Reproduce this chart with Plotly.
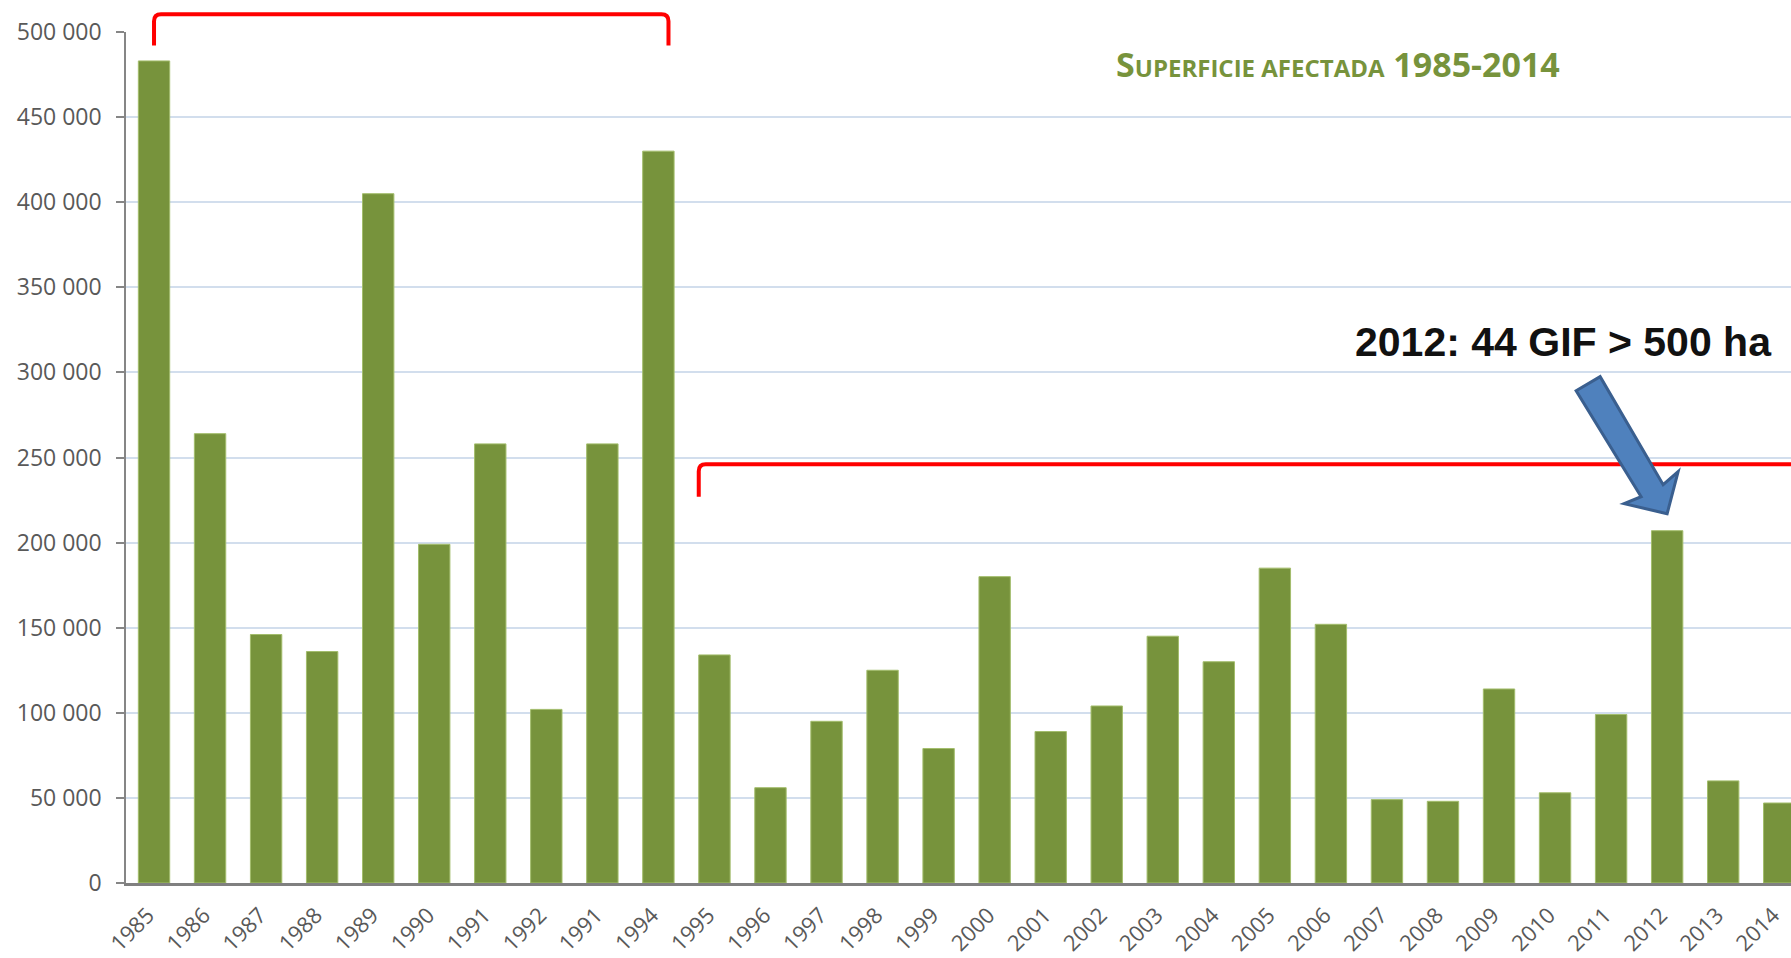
import plotly.graph_objects as go

# ---- data ----
years = ["1985", "1986", "1987", "1988", "1989", "1990", "1991", "1992", "1991", "1994",
         "1995", "1996", "1997", "1998", "1999", "2000", "2001", "2002", "2003", "2004",
         "2005", "2006", "2007", "2008", "2009", "2010", "2011", "2012", "2013", "2014"]
area_ha = [483000, 264000, 146000, 136000, 405000, 199000, 258000, 102000, 258000, 430000,
           134000, 56000, 95000, 125000, 79000, 180000, 89000, 104000, 145000, 130000,
           185000, 152000, 49000, 48000, 114000, 53000, 99000, 207000, 60000, 47000]
y_ticks = [0, 50000, 100000, 150000, 200000, 250000, 300000, 350000, 400000, 450000, 500000]

positions = list(range(len(years)))
label_pos = [p - 0.11 for p in positions]

W, H = 1791, 958
ML, MR, MT, MB = 126, 0, 32, 75
PW, PH = W - ML - MR, H - MT - MB
XR = [-0.5, 29.21]
YR = [0, 500000]


def px_x(x):
    return (x - XR[0]) / (XR[1] - XR[0])


def py_y(y):
    return (y - YR[0]) / (YR[1] - YR[0])


fig = go.Figure()
fig.add_trace(go.Bar(
    x=positions, y=area_ha, width=0.56,
    marker=dict(color="#77933c", line=dict(color="#a3bd6c", width=1)),
    hoverinfo="y",
))


def bracket(x0, x1, ytop, ybot, r=7):
    a, b = px_x(x0), px_x(x1)
    t, bt = py_y(ytop), py_y(ybot)
    rx, ry = r / PW, r / PH
    return (f"M {a},{bt} L {a},{t - ry} Q {a},{t} {a + rx},{t} "
            f"L {b - rx},{t} Q {b},{t} {b},{t - ry} L {b},{bt}")


shapes = [
    dict(type="path", xref="paper", yref="paper",
         path=bracket(0.0, 9.18, 510500, 492000),
         line=dict(color="#ff0000", width=4)),
    dict(type="path", xref="paper", yref="paper",
         path=bracket(9.72, 29.9, 246000, 227000),
         line=dict(color="#ff0000", width=4)),
]

# block arrow pointing at the 2012 bar (offsets in screen pixels from the tip)
tip_x = px_x(27)
tip_y = py_y(area_ha[27] + 10000)
offs = [(0, 0), (-43, -10), (-26, -17), (-91, -123), (-67, -137), (-4, -29), (11, -42)]
pts = [(tip_x + dx / PW, tip_y - dy / PH) for dx, dy in offs]
arrow_path = "M " + " L ".join(f"{x},{y}" for x, y in pts) + " Z"
shapes.append(dict(type="path", xref="paper", yref="paper", path=arrow_path,
                   fillcolor="#4f81bd", line=dict(color="#3a5f8f", width=3)))

annotations = [
    dict(xref="paper", yref="paper", x=(1338 - ML) / PW, y=(H - MB - 64) / PH,
         xanchor="center", yanchor="middle", showarrow=False,
         text="<b>S<span style='font-size:24px'>UPERFICIE AFECTADA</span> 1985-2014</b>",
         font=dict(family="Open Sans, sans-serif", size=34, color="#77933c")),
    dict(xref="paper", yref="paper", x=(1563 - ML) / PW, y=(H - MB - 342) / PH,
         xanchor="center", yanchor="middle", showarrow=False,
         text="<b>2012: 44 GIF &gt; 500 ha</b>",
         font=dict(family="Liberation Sans, Arial, sans-serif", size=41, color="#111111")),
]

fig.update_layout(
    width=W, height=H, autosize=False,
    margin=dict(l=ML, r=MR, t=MT, b=MB, pad=0),
    paper_bgcolor="white", plot_bgcolor="white",
    separators=", ",
    showlegend=False,
    shapes=shapes,
    annotations=annotations,
    font=dict(family="Open Sans, sans-serif", color="#595959"),
    xaxis=dict(range=XR, tickmode="array", tickvals=label_pos, ticktext=years,
               tickangle=-45, tickfont=dict(size=22, color="#595959"),
               ticklabelstandoff=8,
               showgrid=False, zeroline=False, showline=True,
               linecolor="#808080", linewidth=2.5, ticks=""),
    yaxis=dict(range=YR, tickmode="array", tickvals=y_ticks, tickformat=",d",
               tickfont=dict(size=23, color="#595959"),
               ticklabelstandoff=10,
               showgrid=True, gridcolor="#d2deed", gridwidth=1.5,
               zeroline=False, showline=True, linecolor="#868686", linewidth=1.5,
               ticks="outside", ticklen=8, tickcolor="#868686", tickwidth=1.5),
    bargap=0.44,
)

fig.write_html("out.html", config={"displayModeBar": False},
               post_script="document.body.style.margin='0';document.body.style.overflow='hidden';")
